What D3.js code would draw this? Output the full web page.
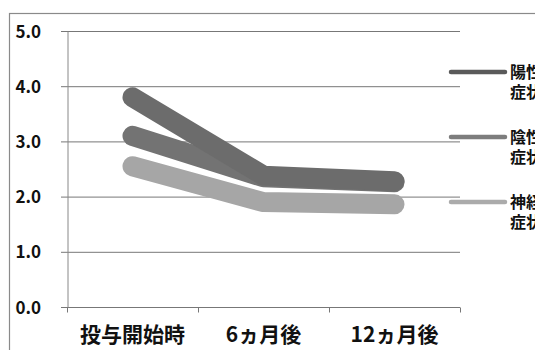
<!DOCTYPE html>
<html>
<head>
<meta charset="utf-8">
<script src="https://cdn.jsdelivr.net/npm/d3@7"></script>
<style>
  body { margin: 0; background: #fff; overflow: hidden; }
  text { font-family: "Noto Sans CJK JP", "Noto Sans", sans-serif; font-weight: bold; fill: #111; }
</style>
</head>
<body>
<div class="chart"></div>
<script>
var categories = ["投与開始時", "6ヵ月後", "12ヵ月後"];
var seriesNames = ["陽性症状", "陰性症状", "神経症状"];
var positiveVals = [3.8, 2.38, 2.28];
var negativeVals = [3.1, 2.35, 2.26];
var neuroVals = [2.55, 1.9, 1.86];
var yTicks = [0, 1, 2, 3, 4, 5];

var width = 535,
  height = 350;

var svg = d3.select(".chart").append("svg")
  .attr("width", width)
  .attr("height", height);

// outer chart border (runs off the right and bottom)
svg.append("rect")
  .attr("x", 9.5).attr("y", 13.5)
  .attr("width", 600).attr("height", 400)
  .attr("fill", "none")
  .attr("stroke", "#8a8a8a")
  .attr("stroke-width", 1.2);

var x = d3.scaleBand()
  .domain(categories)
  .range([67, 460]);

var y = d3.scaleLinear()
  .domain([0, 5])
  .range([307, 31]);

// gridlines
svg.append("g")
  .selectAll("line")
  .data(yTicks)
  .enter().append("line")
  .attr("x1", 61).attr("x2", 460)
  .attr("y1", function(d) { return y(d) + 0.5; })
  .attr("y2", function(d) { return y(d) + 0.5; })
  .attr("stroke", "#777")
  .attr("stroke-width", 1);

// y axis
var yAxis = d3.axisLeft(y)
  .tickValues(yTicks)
  .tickFormat(d3.format(".1f"))
  .tickSize(0)
  .tickPadding(22);

svg.append("g")
  .attr("transform", "translate(67.5,0)")
  .call(yAxis)
  .call(function(g) {
    g.select(".domain").attr("stroke", "#888");
    g.selectAll("text")
      .attr("font-size", 17)
      .attr("text-anchor", "start")
      .attr("x", -52)
      .attr("dy", "0.36em");
  });

// x axis
var xAxis = d3.axisBottom(x)
  .tickSize(0)
  .tickPadding(17);

var gx = svg.append("g")
  .attr("transform", "translate(0,307.5)")
  .call(xAxis);
gx.select(".domain").attr("stroke", "none");
gx.selectAll("text").attr("font-size", 21).attr("dy", "0.85em");

// category boundary ticks
var bounds = categories.map(function(c) { return x(c); }).concat([x.range()[1]]);
gx.selectAll(".bound")
  .data(bounds)
  .enter().append("line")
  .attr("class", "bound")
  .attr("x1", function(d) { return d + 0.5; })
  .attr("x2", function(d) { return d + 0.5; })
  .attr("y1", 0).attr("y2", 5)
  .attr("stroke", "#777");

var series = [
  { name: seriesNames[2], vals: neuroVals, color: "#a6a6a6", legend: "#ababab" },
  { name: seriesNames[1], vals: negativeVals, color: "#737373", legend: "#7d7d7d" },
  { name: seriesNames[0], vals: positiveVals, color: "#6c6c6c", legend: "#5a5a5a" }
];

var line = d3.line()
  .x(function(d, i) { return x(categories[i]) + x.bandwidth() / 2; })
  .y(function(d) { return y(d); });

svg.append("g")
  .selectAll("path")
  .data(series)
  .enter().append("path")
  .attr("d", function(s) { return line(s.vals); })
  .attr("fill", "none")
  .attr("stroke", function(s) { return s.color; })
  .attr("stroke-width", 20)
  .attr("stroke-linecap", "round")
  .attr("stroke-linejoin", "round");

// legend (text runs off the right edge like the original)
var legendRows = [series[2], series[1], series[0]];
var leg = svg.append("g")
  .selectAll("g")
  .data(legendRows)
  .enter().append("g")
  .attr("transform", function(d, i) { return "translate(451," + (72 + i * 65) + ")"; });

leg.append("line")
  .attr("x1", 0).attr("x2", 54)
  .attr("stroke", function(d) { return d.legend; })
  .attr("stroke-width", 4.5)
  .attr("stroke-linecap", "round");

leg.append("text")
  .attr("x", 59)
  .attr("font-size", 16)
  .selectAll("tspan")
  .data(function(d) { return [d.name.slice(0, 2), d.name.slice(2)]; })
  .enter().append("tspan")
  .attr("x", 59)
  .attr("dy", function(d, i) { return i === 0 ? "0.35em" : "1.25em"; })
  .text(function(d) { return d; });
</script>
</body>
</html>
